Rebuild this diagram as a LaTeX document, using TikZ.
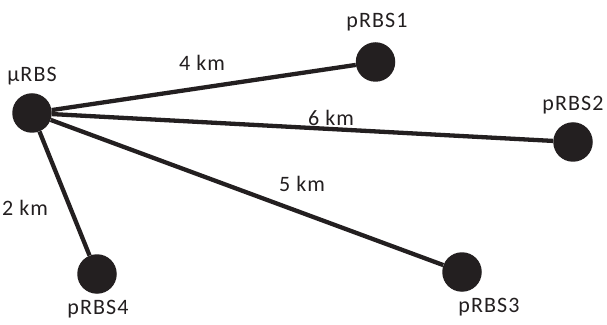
\documentclass[tikz,border=0pt]{standalone}
\usepackage{fontspec}
\setmainfont{Carlito}[LetterSpace=5]
\definecolor{ink}{HTML}{231F20}
\begin{document}
\begin{tikzpicture}[x=1pt,y=1pt,
  station/.style={circle,fill=ink,draw=none,minimum size=39.5pt,inner sep=0pt},
  link/.style={draw=ink,line width=4.3pt},
  lbl/.style={text=ink,font=\fontsize{22}{26}\selectfont,inner sep=0pt}]
\useasboundingbox (0,0) rectangle (607,324);
\node[station] (mu) at (32,211) {};
\node[station] (p1) at (375.5,262) {};
\node[station] (p2) at (573,182) {};
\node[station] (p3) at (462,52) {};
\node[station] (p4) at (97,50) {};
\draw[link] (mu) -- (p1);
\draw[link] (mu) -- (p2);
\draw[link] (mu) -- (p3);
\draw[link] (mu) -- (p4);
\node[lbl] (tmu) at (32,248) {µRBS};
\node[lbl] (t1) at (377,302) {pRBS1};
\node[lbl] (t2) at (573,219) {pRBS2};
\node[lbl] (t3) at (489,17) {pRBS3};
\node[lbl] (t4) at (98,15) {pRBS4};
\node[lbl] (d1) at (202,261) {4 km};
\node[lbl] (d2) at (331,206) {6 km};
\node[lbl] (d3) at (302,140) {5 km};
\node[lbl] (d4) at (25,116) {2 km};
\end{tikzpicture}
\end{document}
